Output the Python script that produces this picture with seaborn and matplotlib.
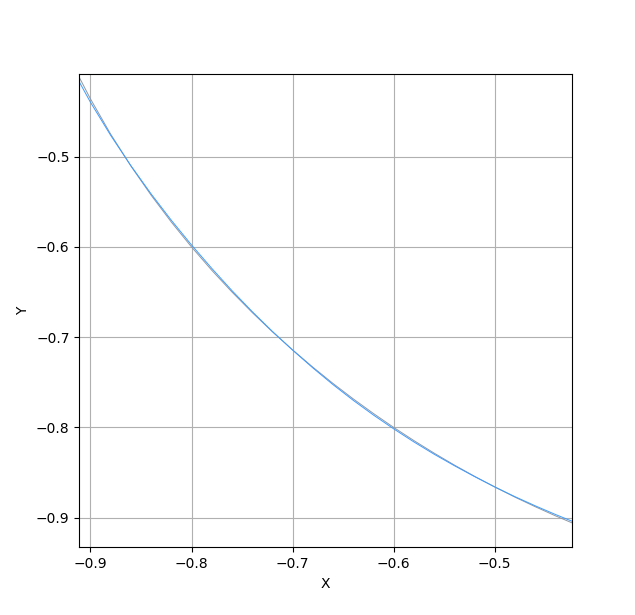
import matplotlib
matplotlib.use("Agg")
import matplotlib.pyplot as plt
import seaborn as sns

# sample x positions shared by both curves
x_vals = [-0.915, -0.90, -0.88, -0.86, -0.84, -0.82, -0.80, -0.78, -0.76,
          -0.74, -0.72, -0.70, -0.68, -0.66, -0.64, -0.62, -0.60, -0.58,
          -0.56, -0.54, -0.52, -0.50, -0.48, -0.46, -0.44, -0.42]

# reference curve (gray)
y_ref = [-0.4035, -0.4359, -0.4750, -0.5103, -0.5426, -0.5724, -0.6000,
         -0.6258, -0.6499, -0.6726, -0.6940, -0.7141, -0.7332, -0.7513,
         -0.7684, -0.7846, -0.8000, -0.8146, -0.8285, -0.8417, -0.8542,
         -0.8660, -0.8773, -0.8879, -0.8980, -0.9075]

# approximation curve (blue)
y_fit = [-0.4090, -0.4396, -0.4763, -0.5099, -0.5412, -0.5704, -0.5978,
         -0.6237, -0.6484, -0.6716, -0.6936, -0.7143, -0.7340, -0.7526,
         -0.7700, -0.7863, -0.8016, -0.8161, -0.8297, -0.8424, -0.8545,
         -0.8660, -0.8768, -0.8869, -0.8965, -0.9056]

fig, ax = plt.subplots(figsize=(6.35, 6.15), dpi=100)

sns.lineplot(x=x_vals, y=y_ref, sort=False, estimator=None, ax=ax,
             color='#8f98a3', linewidth=0.7)
sns.lineplot(x=x_vals, y=y_fit, sort=False, estimator=None, ax=ax,
             color='#3d9bff', linewidth=0.7)

ax.set_xlim(-0.911, -0.424)
ax.set_ylim(-0.933, -0.408)
ax.set_xlabel('X')
ax.set_ylabel('Y')
ax.grid(True, color='#b0b0b0', linewidth=0.8)
ax.set_axisbelow(True)

plt.savefig('out.png', dpi=100)
plt.close()
